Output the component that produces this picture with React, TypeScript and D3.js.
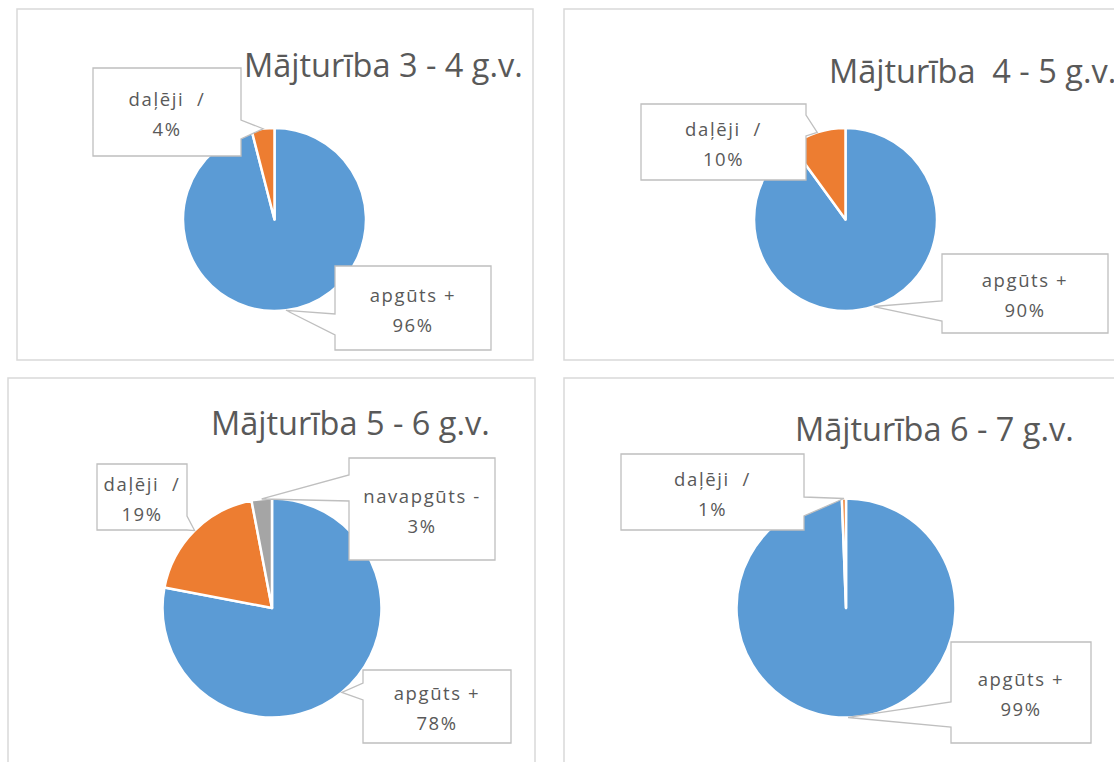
import React from 'react';
import * as d3 from 'd3';

// chart data
const titles = ['Mājturība 3 - 4 g.v.', 'Mājturība  4 - 5 g.v.', 'Mājturība 5 - 6 g.v.', 'Mājturība 6 - 7 g.v.'];
const categories = ['apgūts +', 'daļēji  /', 'navapgūts -'];
const colors = ['#5B9BD5', '#ED7D31', '#A5A5A5'];
const values34 = [96, 4];
const values45 = [90, 10];
const values56 = [78, 19, 3];
const values67 = [99.4, 0.6];
const seriesValues = [values34, values45, values56, values67];

// layout of the four chart panels (frame, title, pie, callout boxes)
const panels = [
  {
    frame: [17, 9, 533, 360], title: [244, 77], cx: 274.5, cy: 219.5, r: 91.5,
    boxes: [
      { rect: [335, 266, 491, 350], side: 'left', base: [314, 335] },
      { rect: [93, 68, 241, 156], side: 'right', base: [120, 139] },
    ],
  },
  {
    frame: [564, 9, 1130, 360], title: [829, 83], cx: 845.5, cy: 219.5, r: 91.5,
    boxes: [
      { rect: [942, 254, 1108, 333], side: 'left', base: [301, 321] },
      { rect: [641, 104, 806, 180], side: 'right', base: [115, 136] },
    ],
  },
  {
    frame: [8, 378, 535, 790], title: [211, 435], cx: 272, cy: 608, r: 109.5,
    boxes: [
      { rect: [363, 670, 511, 743], side: 'left', base: [683, 700] },
      { rect: [97, 464, 187, 530], side: 'right', base: [516, 530] },
      { rect: [349, 458, 495, 560], side: 'left', base: [475, 501] },
    ],
  },
  {
    frame: [564, 378, 1130, 790], title: [795, 441], cx: 846, cy: 608, r: 109.5,
    boxes: [
      { rect: [951, 642, 1091, 743], side: 'left', base: [702, 727] },
      { rect: [621, 454, 804, 530], side: 'right', base: [497, 516] },
    ],
  },
];

const FONT = "'Open Sans', 'Noto Sans', sans-serif";
const TEXT = '#595959';

// callout = rectangle with a wedge pointing to the slice
function calloutPath(rect, side, base, tip) {
  const [x0, y0, x1, y1] = rect;
  const p = d3.path();
  if (side === 'left') {
    p.moveTo(x0, y0);
    p.lineTo(x1, y0);
    p.lineTo(x1, y1);
    p.lineTo(x0, y1);
    p.lineTo(x0, base[1]);
    p.lineTo(tip[0], tip[1]);
    p.lineTo(x0, base[0]);
  } else {
    p.moveTo(x0, y0);
    p.lineTo(x1, y0);
    p.lineTo(x1, base[0]);
    p.lineTo(tip[0], tip[1]);
    p.lineTo(x1, base[1]);
    p.lineTo(x1, y1);
    p.lineTo(x0, y1);
  }
  p.closePath();
  return p.toString();
}

const PiePanel = ({ idx }) => {
  const cfg = panels[idx];
  const values = seriesValues[idx];
  const pie = d3.pie().sort(null).value((d) => d)(values);
  const arc = d3.arc().innerRadius(0).outerRadius(cfg.r);
  const edge = d3.arc().innerRadius(cfg.r).outerRadius(cfg.r);
  const [fx0, fy0, fx1, fy1] = cfg.frame;

  return (
    <g>
      <rect x={fx0} y={fy0} width={fx1 - fx0} height={fy1 - fy0} fill="#fff" stroke="#d9d9d9" strokeWidth={1.5} />
      <text x={cfg.title[0]} y={cfg.title[1]} fontFamily={FONT} fontSize={32.5} fill={TEXT} style={{ whiteSpace: 'pre' }}>
        {titles[idx]}
      </text>
      <g transform={`translate(${cfg.cx},${cfg.cy})`}>
        {pie.map((d, i) => (
          <path key={i} d={arc(d)} fill={colors[i]} stroke="#fff" strokeWidth={2.5} strokeLinejoin="round" />
        ))}
      </g>
      {pie.map((d, i) => {
        const box = cfg.boxes[i];
        const c = edge.centroid(d);
        const tip = [cfg.cx + c[0], cfg.cy + c[1]];
        const [x0, y0, x1, y1] = box.rect;
        const mx = (x0 + x1) / 2;
        const my = (y0 + y1) / 2;
        return (
          <g key={i}>
            <path d={calloutPath(box.rect, box.side, box.base, tip)} fill="#fff" stroke="#bfbfbf" strokeWidth={1.3} />
            <text x={mx} textAnchor="middle" fontFamily={FONT} fontSize={18.5} fill={TEXT} letterSpacing={1.6} style={{ whiteSpace: 'pre' }}>
              <tspan x={mx} y={my - 6.5}>{categories[i]}</tspan>
              <tspan x={mx} y={my + 23.5}>{`${Math.round(d.data)}%`}</tspan>
            </text>
          </g>
        );
      })}
    </g>
  );
};

export default function App() {
  return (
    <svg width={1114} height={762} style={{ position: 'absolute', left: 0, top: 0, background: '#fff' }}>
      {panels.map((_, i) => (
        <PiePanel key={i} idx={i} />
      ))}
    </svg>
  );
}
